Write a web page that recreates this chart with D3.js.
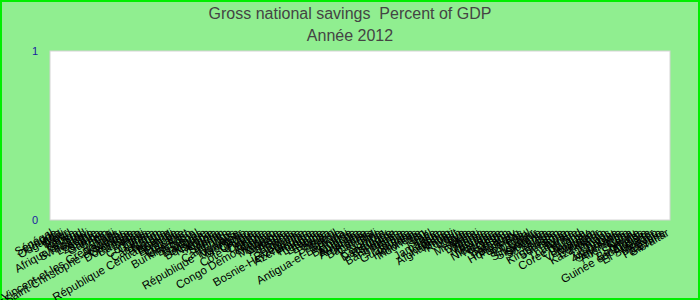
<!DOCTYPE html>
<html>
<head>
<meta charset="utf-8">
<script src="https://cdn.jsdelivr.net/npm/d3@7"></script>
<style>
  body { margin: 0; background: #90ee90; }
  svg { display: block; font-family: "Liberation Sans", Arial, sans-serif; }
</style>
</head>
<body>
<div id="chart"></div>
<script>
// chart text
var title = "Gross national savings  Percent of GDP";
var subtitle = "Ann\u00e9e 2012";

// countries in the order shown on the x axis
var countries = [
  "Sénégal", "Islande", "Ouganda", "Mali", "Niger", "Tchad", "Kenya", "Ghana",
  "Afrique du Sud", "Swaziland", "Malawi", "Lesotho", "Zambie", "Samoa", "Gambie", "Bénin",
  "Tonga", "Fidji", "Saint-Vincent-et-les Grenadines", "Vanuatu", "Saint-Christophe-et-Niévès",
  "Grenade", "Dominique", "Barbade", "Belize", "Haïti", "Comores", "Guinée", "Libéria",
  "Cameroun", "Gabon", "Rwanda", "République Centrafricaine", "Burundi", "Érythrée", "Éthiopie",
  "Tanzanie", "Cap-Vert", "Burkina Faso", "Bhoutan", "Népal", "Maldives", "Bulgarie", "Botswana",
  "Namibie", "Angola", "Nigeria", "Soudan", "Yémen", "Cambodge", "Laos", "République Togolaise",
  "Myanmar", "Mongolie", "Congo", "Chypre", "Côte d'Ivoire", "Croatie", "Serbie", "Albanie",
  "Congo Démocratique", "Kosovo", "Moldavie", "Géorgie", "Arménie", "Ukraine", "Bélarus", "Russie",
  "Roumanie", "Bosnie-Herzégovine", "Azerbaïdjan", "Hongrie", "Pologne", "Lettonie", "Lituanie",
  "Estonie", "Aruba", "Bahreïn", "Brésil", "Bolivie", "Antigua-et-Barbuda", "Brunei", "Belgique",
  "Autriche", "Australie", "Argentine", "Algérie", "Bahamas", "Canada", "Chili", "Chine", "Colombie",
  "Danemark", "Espagne", "Finlande", "Bangladesh", "France", "Grèce", "Guatemala", "Guyana",
  "Honduras", "Indonésie", "Iran", "Irak", "Israël", "Italie", "Jamaïque", "Japon", "Jordanie",
  "Afghanistan", "Kiribati", "Koweït", "Liban", "Libye", "Inde", "Malaisie", "Malte", "Djibouti",
  "Maroc", "Maurice", "Irlande", "Mexique", "Nicaragua", "Norvège", "Oman", "Pakistan", "Panama",
  "Paraguay", "Hong Kong", "Pays-Bas", "Pérou", "Portugal", "Qatar", "Singapour", "Slovaquie",
  "Slovénie", "Sri Lanka", "Suède", "Suisse", "Kirghizistan", "Suriname", "Syrie", "Taïwan",
  "Thaïlande", "Tunisie", "Corée du Sud", "Turquie", "Uruguay", "Venezuela", "Vietnam", "Équateur",
  "Kazakhstan", "Macao", "Palaos", "Tuvalu", "Zimbabwe", "Mauritanie", "Seychelles", "Allemagne",
  "Cuba", "Nauru", "Somalie", "Bermudes", "Guinée équatoriale", "Andorre", "El Salvador", "Monaco",
  "Egypte", "Palestine", "Gibraltar"
];

// 2012 values: none reported, so the plot stays empty
var savings2012 = [];

// y axis ticks
var yTicks = [0, 1];

var width = 700, height = 300;
var margin = {top: 51, right: 30, bottom: 80, left: 50};
var w = width - margin.left - margin.right;
var h = height - margin.top - margin.bottom;

var svg = d3.select("#chart").append("svg")
    .attr("width", width)
    .attr("height", height);

svg.append("rect")
    .attr("x", 1).attr("y", 1)
    .attr("width", width - 2).attr("height", height - 2)
    .attr("fill", "#90ee90")
    .attr("stroke", "#00ee00")
    .attr("stroke-width", 2);

svg.append("text")
    .attr("x", width / 2).attr("y", 19)
    .attr("text-anchor", "middle")
    .attr("font-size", 16)
    .attr("fill", "#444")
    .style("white-space", "pre")
    .text(title);

svg.append("text")
    .attr("x", width / 2).attr("y", 41)
    .attr("text-anchor", "middle")
    .attr("font-size", 16)
    .attr("fill", "#444")
    .text(subtitle);

var g = svg.append("g")
    .attr("transform", "translate(" + margin.left + "," + margin.top + ")");

g.append("rect")
    .attr("x", 0).attr("y", 0)
    .attr("width", w).attr("height", h)
    .attr("fill", "#fff")
    .attr("stroke", "#d4d4d4")
    .attr("stroke-width", 1);

var x = d3.scaleBand().domain(countries).range([0, w]).padding(0.2);
var y = d3.scaleLinear().domain([0, 1]).range([h, 0]);

// bars (only countries with a value)
var data = countries.map(function(c, i) { return {name: c, value: savings2012[i]}; })
    .filter(function(d) { return d.value != null; });

g.selectAll(".bar")
    .data(data)
    .enter()
    .append("rect")
    .attr("class", "bar")
    .attr("x", function(d) { return x(d.name); })
    .attr("y", function(d) { return y(d.value); })
    .attr("width", x.bandwidth())
    .attr("height", function(d) { return h - y(d.value); })
    .attr("fill", "#4572a7");

// y axis
var yAxis = g.append("g")
    .call(d3.axisLeft(y).tickValues(yTicks).tickFormat(d3.format("d")).tickSize(0).tickPadding(12));
yAxis.select(".domain").remove();
yAxis.selectAll("text")
    .attr("font-size", 11)
    .attr("font-family", "Liberation Sans, Arial, sans-serif")
    .attr("fill", "#1a1aa0");

// x axis
var xAxis = g.append("g")
    .attr("transform", "translate(0," + h + ")")
    .call(d3.axisBottom(x).tickSize(0).tickPadding(0));
xAxis.select(".domain").remove();
xAxis.selectAll("text")
    .attr("font-size", 11.5)
    .attr("font-family", "Liberation Sans, Arial, sans-serif")
    .attr("fill", "#000")
    .attr("text-anchor", "end")
    .attr("dy", "0")
    .attr("y", 0)
    .attr("transform", "translate(2,15) rotate(-30)");
</script>
</body>
</html>
